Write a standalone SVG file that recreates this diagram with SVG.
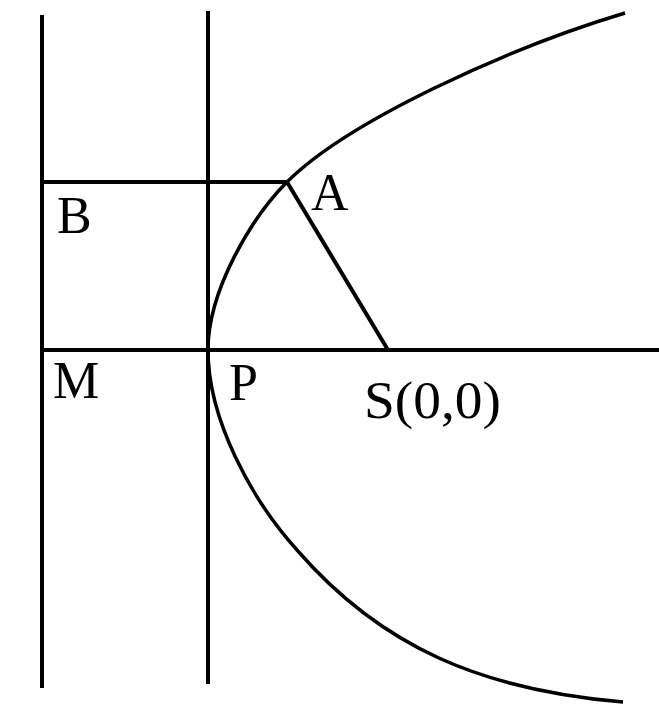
<svg xmlns="http://www.w3.org/2000/svg" width="659" height="706" viewBox="0 0 659 706">
<style>
.ln{stroke:#000;stroke-width:4;fill:none;stroke-linecap:butt}
.cv{stroke:#000;stroke-width:3.5;fill:none}
.lb{font-family:"Liberation Serif","Times New Roman",serif;font-size:52px;fill:#000}
</style>
<rect width="659" height="706" fill="#fff"/>
<g id="lines">
<line class="ln" x1="42" y1="15" x2="42" y2="688"/>
<line class="ln" x1="208" y1="11" x2="208" y2="684"/>
<line class="ln" x1="40" y1="350" x2="659" y2="350"/>
<line class="ln" x1="40" y1="182" x2="287" y2="182"/>
<line class="ln" x1="287" y1="182" x2="388" y2="350"/>
</g>
<g id="parabola">
<path class="cv" d="M208,350 C208,290 252,217 287,182 C347,122 505,49 625,13"/>
<path class="cv" d="M208,350 C208,420 252,500 297,550 C382,648 483,690 623,702"/>
</g>
<g id="labels">
<text class="lb" x="311" y="210">A</text>
<text class="lb" x="57" y="233">B</text>
<text class="lb" x="53" y="398">M</text>
<text class="lb" x="229" y="400">P</text>
<text class="lb" x="364" y="418" textLength="137" lengthAdjust="spacingAndGlyphs">S(0,0)</text>
</g>
</svg>
